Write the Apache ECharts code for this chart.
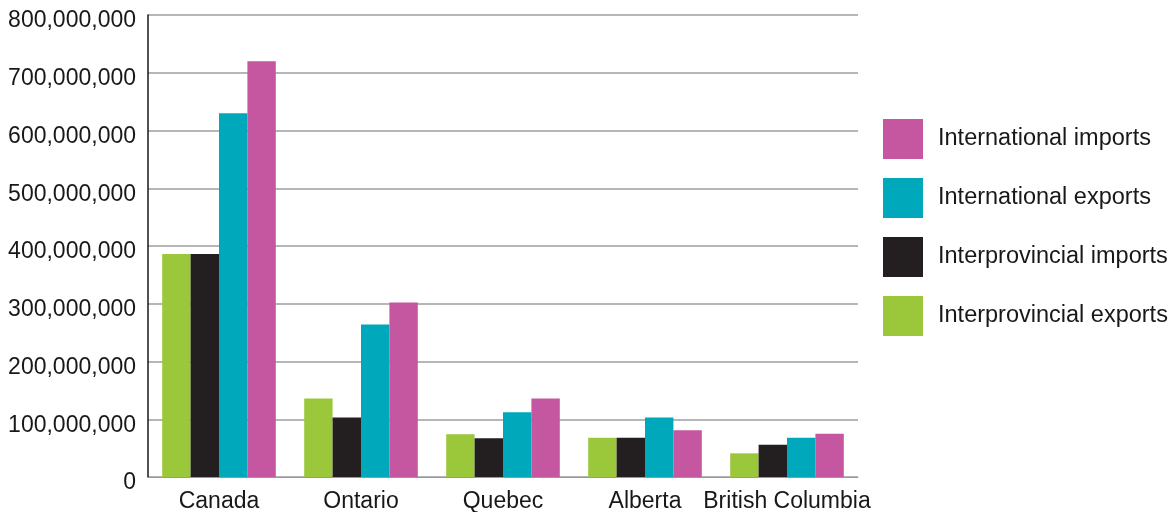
<!DOCTYPE html>
<html>
<head>
<meta charset="utf-8">
<script src="https://cdn.jsdelivr.net/npm/echarts@6/dist/echarts.min.js"></script>
<style>
  html, body { margin: 0; padding: 0; background: #fff; }
  #chart { width: 1170px; height: 512px; }
</style>
</head>
<body>
<div id="chart"></div>
<script>
// provinces along the x axis
const categories = ['Canada', 'Ontario', 'Quebec', 'Alberta', 'British Columbia']

// values
const interprovincialExports = [386e6, 136e6, 74e6, 68e6, 41e6]
const interprovincialImports = [386e6, 103e6, 67e6, 68e6, 56e6]
const internationalExports = [630e6, 264e6, 112e6, 103e6, 68e6]
const internationalImports = [720e6, 302e6, 136e6, 81e6, 75e6]

const yTicks = [0, 100e6, 200e6, 300e6, 400e6, 500e6, 600e6, 700e6, 800e6]

const font = 'Liberation Sans, Arial, Helvetica, sans-serif'
const textColor = '#1a1718'

const chart = echarts.init(document.getElementById('chart'))

chart.setOption({
  animation: false,
  textStyle: { fontFamily: font },
  grid: {
    left: 148,
    right: 312,
    top: 15,
    bottom: 35,
    outerBoundsMode: 'none'
  },
  legend: {
    orient: 'vertical',
    left: 883,
    top: 119,
    padding: 0,
    itemWidth: 40,
    itemHeight: 40,
    itemGap: 19,
    icon: 'rect',
    // legend reads top-down opposite to bar order
    data: ['International imports', 'International exports', 'Interprovincial imports', 'Interprovincial exports'],
    textStyle: { fontSize: 23.5, color: textColor, fontFamily: font, padding: [3, 0, 0, 10] }
  },
  xAxis: {
    type: 'category',
    data: categories,
    axisLine: { show: true, lineStyle: { color: '#999', width: 1 } },
    axisTick: { show: false },
    axisLabel: { interval: 0, fontSize: 23, color: textColor, margin: 13, fontFamily: font }
  },
  yAxis: {
    type: 'value',
    min: yTicks[0],
    max: yTicks[yTicks.length - 1],
    interval: 100e6,
    axisLine: { show: true, lineStyle: { color: textColor, width: 1.5 } },
    axisTick: { show: false },
    splitLine: { lineStyle: { color: '#9e9e9e', width: 1.5 } },
    axisLabel: {
      fontSize: 23,
      color: textColor,
      margin: 12,
      verticalAlign: 'top',
      lineHeight: 12,
      fontFamily: font,
      formatter: v => v.toLocaleString('en-US')
    }
  },
  series: [{
    name: 'Interprovincial exports',
    type: 'bar',
    barGap: 0,
    barCategoryGap: '20%',
    itemStyle: { color: '#9bc83b' },
    data: interprovincialExports
  }, {
    name: 'Interprovincial imports',
    type: 'bar',
    barGap: 0,
    barCategoryGap: '20%',
    itemStyle: { color: '#231f20' },
    data: interprovincialImports
  }, {
    name: 'International exports',
    type: 'bar',
    barGap: 0,
    barCategoryGap: '20%',
    itemStyle: { color: '#00a8bb' },
    data: internationalExports
  }, {
    name: 'International imports',
    type: 'bar',
    barGap: 0,
    barCategoryGap: '20%',
    itemStyle: { color: '#c4579f' },
    data: internationalImports
  }]
})
</script>
</body>
</html>
